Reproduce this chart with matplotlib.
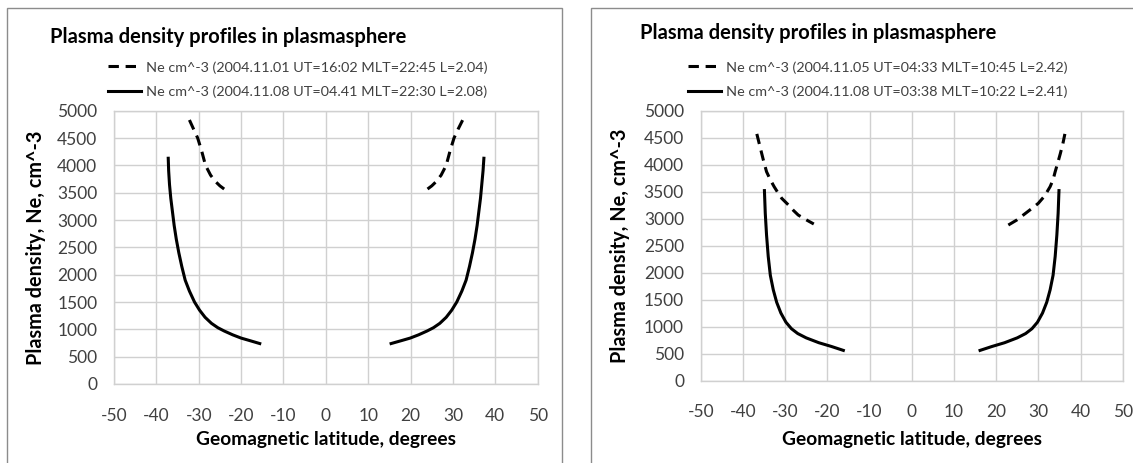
import matplotlib
matplotlib.use("Agg")
import matplotlib.pyplot as plt
from matplotlib.patches import Rectangle

plt.rcParams['font.family'] = ['Lato', 'DejaVu Sans']
plt.rcParams['axes.unicode_minus'] = False

W, H = 1133, 463

# left chart (night side, MLT ~22)
night_labels = ["Ne cm^-3 (2004.11.01 UT=16:02 MLT=22:45 L=2.04)",
                "Ne cm^-3 (2004.11.08 UT=04.41 MLT=22:30 L=2.08)"]
night_dash_lat_s = [-32.2, -31.2, -30.25, -29.3, -28.4, -27.2, -26.0, -25.0, -24.0]
night_dash_ne_s = [4830, 4660, 4500, 4260, 4000, 3820, 3700, 3625, 3567]
night_dash_lat_n = [24.0, 25.0, 26.0, 27.2, 28.4, 29.3, 30.25, 31.2, 32.3]
night_dash_ne_n = [3567, 3625, 3700, 3820, 4000, 4260, 4500, 4660, 4830]
night_solid_lat_s = [-37.2, -37.1, -36.9, -36.6, -36.2, -35.8, -35.3, -34.7, -34.0, -33.2, -32.2,
                     -31.0, -29.8, -28.5, -27.0, -25.5, -24.0, -22.0, -20.0, -18.0, -15.6]
night_solid_ne_s = [4130, 3900, 3650, 3400, 3150, 2900, 2650, 2400, 2150, 1900, 1700,
                    1500, 1350, 1220, 1110, 1030, 970, 900, 840, 795, 740]
night_solid_lat_n = [15.4, 17.9, 19.9, 21.9, 23.9, 25.4, 26.9, 28.4, 29.7, 30.9, 32.1,
                     33.1, 33.9, 34.6, 35.2, 35.7, 36.1, 36.5, 36.8, 37.1, 37.3]
night_solid_ne_n = [740, 795, 840, 900, 970, 1030, 1110, 1220, 1350, 1500, 1700,
                    1900, 2150, 2400, 2650, 2900, 3150, 3400, 3650, 3900, 4130]

# right chart (day side, MLT ~10)
day_labels = ["Ne cm^-3 (2004.11.05 UT=04:33 MLT=10:45 L=2.42)",
              "Ne cm^-3 (2004.11.08 UT=03:38 MLT=10:22 L=2.41)"]
day_dash_lat_s = [-36.7, -36.0, -35.2, -34.4, -33.5, -32.6, -31.7, -30.8, -29.2, -28.0, -26.9, -24.9, -23.2]
day_dash_ne_s = [4570, 4350, 4100, 3870, 3720, 3592, 3480, 3376, 3252, 3150, 3067, 2974, 2900]
day_dash_lat_n = [22.9, 24.9, 26.45, 28.0, 29.0, 30.0, 31.5, 32.8, 33.5, 34.0, 34.6, 35.2, 35.8, 36.3]
day_dash_ne_n = [2881, 2974, 3067, 3160, 3220, 3284, 3420, 3592, 3720, 3870, 4030, 4200, 4380, 4570]
day_solid_lat_s = [-34.9, -34.7, -34.4, -34.0, -33.5, -32.8, -32.0, -31.0, -29.8, -28.5, -27.0,
                   -25.0, -22.0, -19.0, -16.2]
day_solid_ne_s = [3519, 3100, 2700, 2300, 1950, 1680, 1450, 1250, 1080, 960, 870,
                  790, 700, 630, 558]
day_solid_lat_n = [16.2, 19.0, 22.0, 25.0, 27.0, 28.5, 29.8, 31.0, 32.0, 32.8, 33.5,
                   34.0, 34.4, 34.7, 34.9]
day_solid_ne_n = [558, 630, 700, 790, 870, 960, 1080, 1250, 1450, 1680, 1950,
                  2300, 2700, 3100, 3519]

xticks = list(range(-50, 51, 10))
yticks = list(range(0, 5001, 500))

DASH = (0, (3.4, 2.2))
LW = 2.2
GRID = '#d0d0d0'
TXT = '#404040'


def px_axes(fig, x0, x1, y0, y1):
    return fig.add_axes([x0 / W, 1 - y1 / H, (x1 - x0) / W, (y1 - y0) / H])


def panel(fig, box, ax_box, title_xy, ylab_x, leg_xy, labels, dash, solid):
    bx0, bx1 = box
    fig.patches.append(Rectangle((bx0 / W, -0.05), (bx1 - bx0) / W, 1.05 - 8.3 / H,
                                 transform=fig.transFigure, fill=False,
                                 edgecolor='#8c8c8c', lw=1.0))
    ax = px_axes(fig, *ax_box)
    l1, = ax.plot(dash[0], dash[1], color='k', lw=LW, linestyle=DASH, label=labels[0])
    ax.plot(dash[2], dash[3], color='k', lw=LW, linestyle=DASH)
    l2, = ax.plot(solid[0], solid[1], color='k', lw=LW, label=labels[1])
    ax.plot(solid[2], solid[3], color='k', lw=LW)
    ax.set_xlim(-50, 50)
    ax.set_ylim(0, 5000)
    ax.set_xticks(xticks)
    ax.set_yticks(yticks)
    ax.grid(True, color=GRID, lw=1.0)
    for s in ax.spines.values():
        s.set_color(GRID)
        s.set_linewidth(1.0)
    ax.tick_params(length=0, labelsize=12.5, colors=TXT)
    ax.tick_params(axis='y', pad=12)
    ax.tick_params(axis='x', pad=17)
    ax.set_axisbelow(True)
    fig.text(title_xy[0] / W, 1 - title_xy[1] / H, "Plasma density profiles in plasmasphere",
             fontsize=14.5, fontweight='bold', va='center', ha='left')
    fig.text(ylab_x / W, 1 - (ax_box[2] + ax_box[3]) / 2 / H, "Plasma density, Ne, cm^-3",
             fontsize=14.3, fontweight='bold', rotation=90, va='center', ha='center')
    fig.text((ax_box[0] + ax_box[1]) / 2 / W, 1 - 440 / H, "Geomagnetic latitude, degrees",
             fontsize=13.8, fontweight='bold', va='center', ha='center')
    fig.legend(handles=[l1, l2], loc='upper left',
               bbox_to_anchor=(leg_xy[0] / W, 1 - leg_xy[1] / H),
               frameon=False, fontsize=10.4, handlelength=2.3, handletextpad=0.3,
               labelspacing=0.8, borderpad=0, borderaxespad=0, labelcolor=TXT)
    return ax


fig = plt.figure(figsize=(W / 100, H / 100), dpi=100)

panel(fig, (6.7, 561.7), (114, 537.7, 110.7, 384), (50, 37), 36, (108, 61),
      night_labels,
      (night_dash_lat_s, night_dash_ne_s, night_dash_lat_n, night_dash_ne_n),
      (night_solid_lat_s, night_solid_ne_s, night_solid_lat_n, night_solid_ne_n))

panel(fig, (591, 1140), (700.7, 1122.7, 110.7, 380.5), (640, 33), 620, (688, 61),
      day_labels,
      (day_dash_lat_s, day_dash_ne_s, day_dash_lat_n, day_dash_ne_n),
      (day_solid_lat_s, day_solid_ne_s, day_solid_lat_n, day_solid_ne_n))

fig.savefig("out.png", dpi=100)
